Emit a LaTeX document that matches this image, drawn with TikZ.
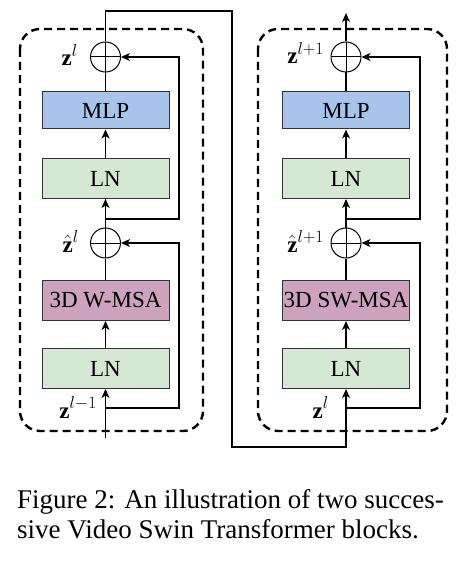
\documentclass[tikz,border=0pt]{standalone}
\usepackage{fontspec}
\setmainfont{Liberation Serif}
\usetikzlibrary{arrows.meta}
\definecolor{mlpblue}{HTML}{A9C4EB}
\definecolor{lngreen}{HTML}{D5E8D4}
\definecolor{msapink}{HTML}{CDA2BE}
\begin{document}
\begin{tikzpicture}[x=1pt,y=-1pt,
  blk/.style={draw=black!80, line width=1pt, minimum width=127pt, minimum height=40pt, inner sep=0pt, font=\fontsize{23}{26}\selectfont},
  opl/.style={circle, draw, line width=1pt, minimum size=30pt, inner sep=0pt,
    path picture={\draw[line width=1pt] (path picture bounding box.north) -- (path picture bounding box.south) (path picture bounding box.west) -- (path picture bounding box.east);}},
  conn/.style={line width=1.2pt},
  arr/.style={conn, -{Stealth[length=9pt,width=8pt,inset=2.5pt]}},
  dbox/.style={line width=2.4pt, dash pattern=on 8pt off 5pt, rounded corners=20pt},
  lab/.style={font=\fontsize{23}{26}\selectfont, inner sep=0pt, anchor=base east},
  captxt/.style={font=\fontsize{27}{30}\selectfont, inner sep=0pt, anchor=base west}
]
\useasboundingbox (0,0) rectangle (459,561);

% dashed boxes
\draw[dbox] (20,29) rectangle (203,431);
\draw[dbox] (258,29) rectangle (447,431);

% left column
\node[blk, fill=mlpblue, minimum height=37pt] (mlpA) at (105.5,110.5) {MLP};
\node[blk, fill=lngreen] (lnA2) at (105.5,178.5) {LN};
\node[blk, fill=msapink] (msaA) at (105.5,300.5) {3D W-MSA};
\node[blk, fill=lngreen] (lnA1) at (105.5,368.5) {LN};
\node[opl] (oA1) at (105.5,57) {};
\node[opl] (oA2) at (105.5,243) {};

% right column
\node[blk, fill=mlpblue, minimum height=37pt] (mlpB) at (346,110.5) {MLP};
\node[blk, fill=lngreen] (lnB2) at (346,178.5) {LN};
\node[blk, fill=msapink] (msaB) at (346,300.5) {3D SW-MSA};
\node[blk, fill=lngreen] (lnB1) at (346,368.5) {LN};
\node[opl] (oB1) at (346,57) {};
\node[opl] (oB2) at (346,243) {};

% labels
\node[lab] (zA1) at (78,66) {$\mathbf{z}^{l}$};
\node[lab] (zA2) at (79,252) {$\hat{\mathbf{z}}^{l}$};
\node[lab] (zA0) at (97,418) {$\mathbf{z}^{l-1}$};
\node[lab] (zB1) at (324,64) {$\mathbf{z}^{l+1}$};
\node[lab] (zB2) at (324,252) {$\hat{\mathbf{z}}^{l+1}$};
\node[lab] (zB0) at (329,418) {$\mathbf{z}^{l}$};

% coordinates
\coordinate (inA) at (105.5,438);
\coordinate (rA1) at (105.5,408);
\coordinate (rA2) at (105.5,219);
\coordinate (rB1) at (346,408);
\coordinate (rB2) at (346,219);
\coordinate (outB) at (346,13);

% left connectors
\draw[arr] (inA) -- (lnA1.south);
\draw[arr] (lnA1) -- (msaA);
\draw[conn] (msaA) -- (oA2);
\draw[arr] (oA2) -- (lnA2);
\draw[arr] (lnA2) -- (mlpA);
\draw[conn] (mlpA) -- (oA1);
\draw[arr] (rA1) -| (179,243) -- (oA2.east);
\draw[arr] (rA2) -| (179,57) -- (oA1.east);
\draw[arr] (oA1.north) |- (232,11) |- (346,447) -- (lnB1.south);

% right connectors
\draw[arr] (lnB1) -- (msaB);
\draw[conn] (msaB) -- (oB2);
\draw[arr] (oB2) -- (lnB2);
\draw[arr] (lnB2) -- (mlpB);
\draw[conn] (mlpB) -- (oB1);
\draw[arr] (rB1) -| (420,243) -- (oB2.east);
\draw[arr] (rB2) -| (420,57) -- (oB1.east);
\draw[arr] (oB1.north) -- (outB);

% caption
\node[captxt] (c1) at (17,508) {Figure 2: An illustration of two succes-};
\node[captxt] (c2) at (17,538) {sive Video Swin Transformer blocks.};
\end{tikzpicture}
\end{document}
